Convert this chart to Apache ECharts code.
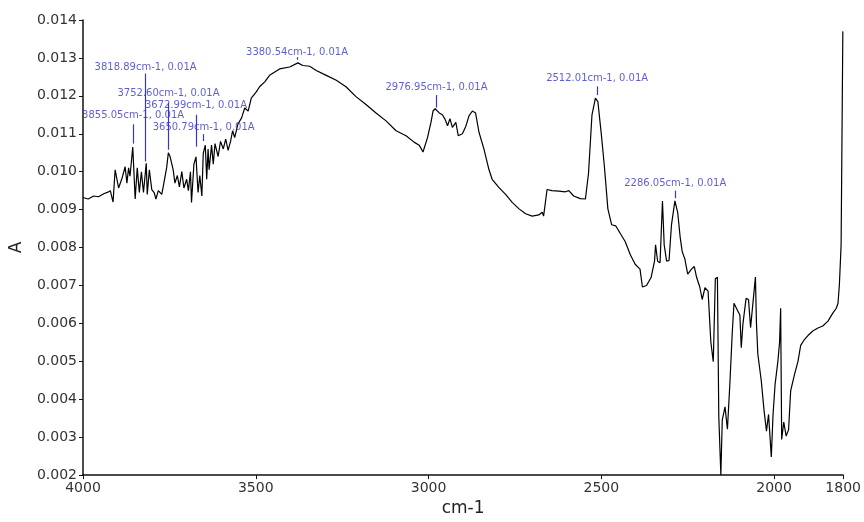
<!DOCTYPE html>
<html>
<head>
<meta charset="utf-8">
<script src="https://cdn.jsdelivr.net/npm/echarts@6/dist/echarts.min.js"></script>
<style>
  html, body { margin: 0; padding: 0; background: #fff; }
  #chart { width: 864px; height: 522px; }
</style>
</head>
<body>
<div id="chart"></div>
<script>
// spectrum (wavenumber in cm-1, absorbance in A)
const wavenumbers = [
  4000, 3985, 3969, 3955, 3940, 3928, 3921, 3913, 3907, 3897,
  3888, 3878, 3873, 3868, 3864, 3856, 3849, 3843, 3837, 3831,
  3825, 3817, 3814, 3808, 3801, 3794, 3789, 3782, 3772, 3766,
  3758, 3753, 3748, 3739, 3734, 3727, 3721, 3714, 3708, 3700,
  3695, 3689, 3686, 3679, 3673, 3667, 3662, 3656, 3652, 3646,
  3642, 3638, 3635, 3628, 3623, 3618, 3609, 3602, 3594, 3587,
  3580, 3573, 3567, 3561, 3552, 3541, 3532, 3522, 3513, 3498,
  3489, 3474, 3460, 3445, 3431, 3402, 3378, 3364, 3344, 3325,
  3296, 3267, 3239, 3210, 3181, 3152, 3123, 3094, 3065, 3042,
  3027, 3016, 3003, 2993, 2987, 2981, 2969, 2960, 2952, 2945,
  2938, 2931, 2921, 2914, 2902, 2892, 2883, 2873, 2864, 2854,
  2840, 2825, 2816, 2796, 2777, 2758, 2738, 2719, 2700, 2681,
  2671, 2667, 2657, 2643, 2623, 2604, 2594, 2580, 2561, 2546,
  2537, 2527, 2517, 2510, 2500, 2491, 2481, 2470, 2458, 2445,
  2431, 2416, 2402, 2388, 2381, 2369, 2356, 2346, 2343, 2337,
  2330, 2323, 2318, 2311, 2304, 2297, 2287, 2279, 2272, 2266,
  2258, 2250, 2239, 2231, 2224, 2215, 2208, 2200, 2191, 2183,
  2176, 2170, 2164, 2160, 2154, 2150, 2142, 2135, 2128, 2121,
  2116, 2109, 2099, 2095, 2090, 2081, 2074, 2068, 2054, 2051,
  2047, 2037, 2029, 2022, 2016, 2008, 2003, 1997, 1989, 1984,
  1981, 1978, 1972, 1965, 1958, 1952, 1941, 1931, 1923, 1914,
  1902, 1888, 1873, 1859, 1844, 1830, 1820, 1815, 1811, 1806,
  1801
];
const absorbance = [
  0.00932, 0.00928, 0.00936, 0.00934, 0.00942, 0.00946, 0.0095, 0.0092, 0.01005, 0.00957,
  0.0098, 0.01013, 0.0097, 0.0101, 0.00988, 0.01065, 0.00928, 0.0101, 0.00945, 0.0100,
  0.00945, 0.01022, 0.0094, 0.01005, 0.00953, 0.00945, 0.00928, 0.0095, 0.0094, 0.0097,
  0.0101, 0.0105, 0.0104, 0.01005, 0.0097, 0.0099, 0.0096, 0.0100, 0.00957, 0.0098,
  0.0095, 0.0100, 0.00919, 0.0102, 0.01039, 0.00945, 0.0099, 0.00936, 0.01048, 0.0107,
  0.0098, 0.0106, 0.01005, 0.0107, 0.0102, 0.01074, 0.0104, 0.0108, 0.0106, 0.01086,
  0.01056, 0.0108, 0.01108, 0.0109, 0.01125, 0.01142, 0.01168, 0.0116, 0.01194, 0.01211,
  0.01224, 0.01237, 0.01254, 0.01263, 0.01271, 0.01276, 0.01287, 0.0128, 0.01278, 0.01267,
  0.01254, 0.01241, 0.01224, 0.01198, 0.01177, 0.01155, 0.01134, 0.01108, 0.01095, 0.01078,
  0.0107, 0.01052, 0.0109, 0.0113, 0.0116, 0.01166, 0.01155, 0.0115, 0.01138, 0.01121,
  0.0114, 0.01117, 0.0113, 0.01095, 0.011, 0.0112, 0.01147, 0.0116, 0.01155, 0.01104,
  0.01061, 0.01005, 0.0098, 0.00958, 0.0094, 0.00919, 0.00902, 0.00889, 0.00883, 0.00886,
  0.00893, 0.00883, 0.00953, 0.0095, 0.00949, 0.00947, 0.0095, 0.00936, 0.00929, 0.00928,
  0.00996, 0.0115, 0.01194, 0.01185, 0.01099, 0.01013, 0.00902, 0.0086, 0.00857, 0.00837,
  0.00816, 0.00781, 0.00756, 0.00743, 0.00696, 0.007, 0.00721, 0.00764, 0.00807, 0.00764,
  0.0076, 0.00923, 0.00807, 0.00764, 0.00766, 0.00859, 0.00923, 0.00893, 0.00829, 0.0079,
  0.00769, 0.0073, 0.00743, 0.0075, 0.00721, 0.00696, 0.00663, 0.00694, 0.00685, 0.00551,
  0.00499, 0.00718, 0.00722, 0.00355, 0.002, 0.00345, 0.0038, 0.00321, 0.0044, 0.00576,
  0.00653, 0.0064, 0.00622, 0.00536, 0.006, 0.00666, 0.00663, 0.00589, 0.00722, 0.006,
  0.00519, 0.00448, 0.0037, 0.00316, 0.0036, 0.00248, 0.0036, 0.0044, 0.005, 0.00551,
  0.0064, 0.00294, 0.0034, 0.00303, 0.0032, 0.00422, 0.00465, 0.00499, 0.00542, 0.00555,
  0.00568, 0.0058, 0.00588, 0.00593, 0.00606, 0.00627, 0.0064, 0.00653, 0.00702, 0.00807,
  0.0137
];

// x tick labels
const xTicks = [4000, 3500, 3000, 2500, 2000, 1800];

// peak picks: wavenumber, label height, marker line top / bottom (in A)
const peakWn = [3855.05, 3818.89, 3752.60, 3672.99, 3650.79, 3380.54, 2976.95, 2512.01, 2286.05];
const peakLabelA = [0.01148, 0.01274, 0.01207, 0.01174, 0.01117, 0.01315, 0.01223, 0.01246, 0.00968];
const peakTopA = [0.01125, 0.01259, 0.01181, 0.0115, 0.01099, 0.01302, 0.01202, 0.01225, 0.0095];
const peakBottomA = [0.01074, 0.01027, 0.01058, 0.01066, 0.01081, 0.01295, 0.01169, 0.01202, 0.0093];

const spectrum = wavenumbers.map((w, i) => [w, absorbance[i]]);
const peakLabels = peakWn.map((w, i) => ({
  value: [w, peakLabelA[i]],
  text: w.toFixed(2) + "cm-1, 0.01A",
}));
const peakLines = peakWn.map((w, i) => [
  { coord: [w, peakTopA[i]] },
  { coord: [w, peakBottomA[i]] },
]);

const blue = "#3636c8";
const font = "DejaVu Sans";

const chart = echarts.init(document.getElementById("chart"), null, { renderer: "canvas" });

chart.setOption({
  backgroundColor: "#fff",
  animation: false,
  grid: { left: 83, right: 19, top: 20, bottom: 35 },
  xAxis: {
    type: "value",
    min: 1800,
    max: 4000,
    inverse: true,
    name: "cm-1",
    nameLocation: "middle",
    nameGap: 21,
    nameTextStyle: { fontFamily: font, fontSize: 17, color: "#222", verticalAlign: "top" },
    axisLine: { onZero: false, lineStyle: { color: "#111", width: 1.5 } },
    axisTick: { length: 4, customValues: xTicks, lineStyle: { color: "#111" } },
    axisLabel: {
      customValues: xTicks,
      margin: 6,
      fontFamily: font,
      fontSize: 14,
      color: "#333",
      formatter: (v) => String(v),
    },
    splitLine: { show: false },
  },
  yAxis: {
    type: "value",
    min: 0.002,
    max: 0.014,
    interval: 0.001,
    name: "A",
    nameLocation: "middle",
    nameGap: 58,
    nameRotate: 90,
    nameTextStyle: { fontFamily: font, fontSize: 17, color: "#222" },
    axisLine: { show: true, lineStyle: { color: "#111", width: 1.5 } },
    axisTick: { show: true, length: 4, lineStyle: { color: "#111" } },
    axisLabel: {
      margin: 6,
      fontFamily: font,
      fontSize: 14,
      color: "#333",
      formatter: (v) => v.toFixed(3),
    },
    splitLine: { show: false },
  },
  series: [
    {
      type: "line",
      data: spectrum,
      showSymbol: false,
      lineStyle: { color: "#000", width: 1.2 },
      z: 2,
    },
    {
      type: "scatter",
      data: peakLabels,
      symbolSize: 1,
      itemStyle: { color: "rgba(0,0,0,0)" },
      label: {
        show: true,
        position: "inside",
        formatter: (p) => p.data.text,
        fontFamily: font,
        fontSize: 10,
        color: blue,
      },
      markLine: {
        silent: true,
        symbol: ["none", "none"],
        label: { show: false },
        lineStyle: { color: blue, type: "solid", width: 1.2 },
        data: peakLines,
      },
      z: 3,
    },
  ],
});
</script>
</body>
</html>
